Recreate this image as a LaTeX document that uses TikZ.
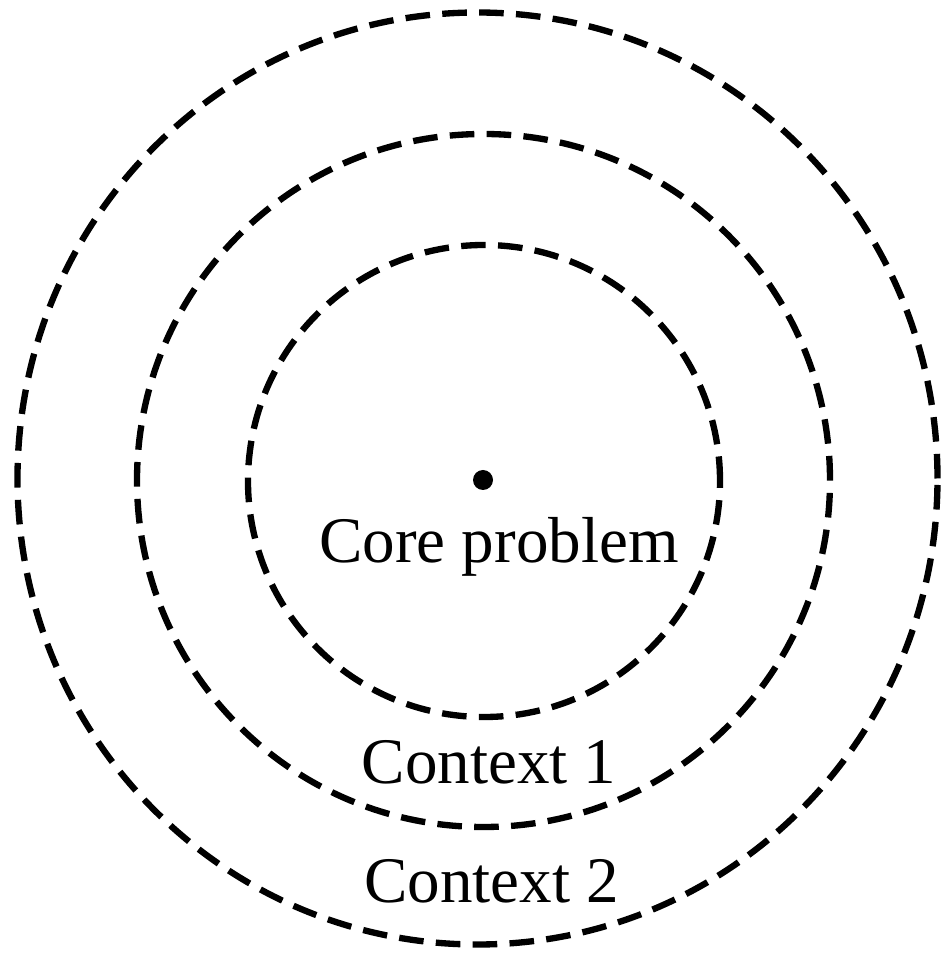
\documentclass[tikz,border=0pt]{standalone}
\usepackage{fontspec}
\setmainfont{Liberation Serif}
\usepackage{tikz}
\usetikzlibrary{calc}

\begin{document}
\begin{tikzpicture}[ring/.style={line width=3.6pt, dash pattern=on 14pt off 7pt},
    lbl/.style={anchor=base, font=\fontsize{37}{41}\selectfont}]
    \useasboundingbox (-9.66,-9.52) rectangle (9.16,9.60);
    \draw[ring] (0.02,-0.02) circle (4.72);
    \draw[ring] (0.01,-0.01) circle (6.93);
    \draw[ring] (-0.11,0.03) ellipse (9.20 and 9.32);
    \fill (0,0) circle (0.2);
    \node[lbl] (core) at (0.32,-1.66) {Core problem};
    \node[lbl] (ctxone) at (0.12,-6.06) {Context 1};
    \node[lbl] (ctxtwo) at (0.17,-8.44) {Context 2};
\end{tikzpicture}
\end{document}
